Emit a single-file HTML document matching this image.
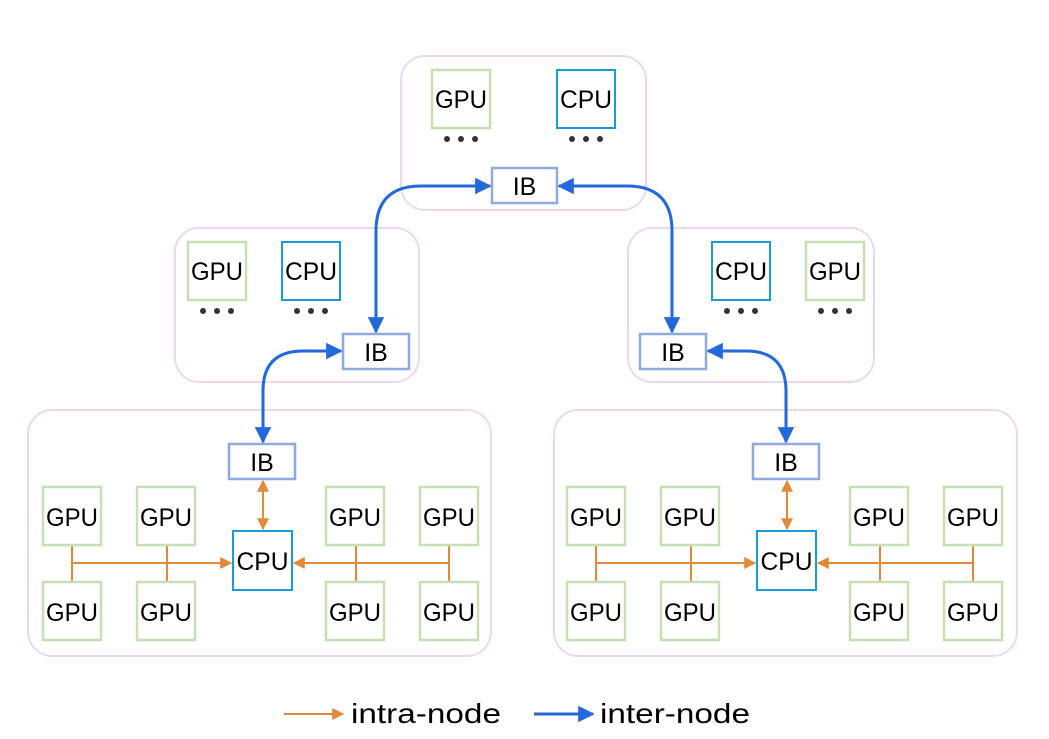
<!DOCTYPE html>
<html><head><meta charset="utf-8"><style>
html,body{margin:0;padding:0;background:#fff;}
svg{display:block;}
text{font-family:"Liberation Sans","DejaVu Sans",sans-serif;fill:#000;}
</style></head><body>
<svg width="1049" height="739" viewBox="0 0 1049 739" xmlns="http://www.w3.org/2000/svg">
<defs>
<marker id="bA" viewBox="0 0 10 10" refX="9" refY="5" markerWidth="5.5" markerHeight="5.5" orient="auto-start-reverse"><path d="M0,0 L10,5 L0,10 z" fill="#2469da"/></marker>
<marker id="oA" viewBox="0 0 10 10" refX="9" refY="5" markerWidth="6" markerHeight="6" orient="auto-start-reverse"><path d="M0,0 L10,5 L0,10 z" fill="#e08a3a"/></marker>
</defs>
<g fill="none" stroke="#ecd8f0" stroke-width="2">
<rect x="401" y="56" width="245" height="154" rx="24"/>
<rect x="175" y="228" width="244" height="154" rx="24"/>
<rect x="628" y="228" width="246" height="154" rx="24"/>
<rect x="28" y="410" width="463" height="246" rx="24"/>
<rect x="554" y="410" width="463" height="246" rx="24"/>
</g>
<g font-size="25" text-anchor="middle">
<rect x="432" y="70" width="58" height="58" fill="none" stroke="#c6e0b4" stroke-width="2.5"/><text x="461" y="108" textLength="52" lengthAdjust="spacingAndGlyphs">GPU</text>
<rect x="557" y="70" width="58" height="58" fill="none" stroke="#1a9ad6" stroke-width="2"/><text x="586" y="108" textLength="52" lengthAdjust="spacingAndGlyphs">CPU</text>
<rect x="492" y="168" width="65" height="35" fill="none" stroke="#90aadc" stroke-width="2.5"/><text x="524.5" y="195">IB</text>
<rect x="188" y="242" width="58" height="58" fill="none" stroke="#c6e0b4" stroke-width="2.5"/><text x="217" y="280" textLength="52" lengthAdjust="spacingAndGlyphs">GPU</text>
<rect x="282" y="242" width="58" height="58" fill="none" stroke="#1a9ad6" stroke-width="2"/><text x="311" y="280" textLength="52" lengthAdjust="spacingAndGlyphs">CPU</text>
<rect x="343" y="334" width="66" height="35" fill="none" stroke="#90aadc" stroke-width="2.5"/><text x="376" y="361">IB</text>
<rect x="712" y="242" width="58" height="58" fill="none" stroke="#1a9ad6" stroke-width="2"/><text x="741" y="280" textLength="52" lengthAdjust="spacingAndGlyphs">CPU</text>
<rect x="806" y="242" width="58" height="58" fill="none" stroke="#c6e0b4" stroke-width="2.5"/><text x="835" y="280" textLength="52" lengthAdjust="spacingAndGlyphs">GPU</text>
<rect x="640" y="334" width="66" height="35" fill="none" stroke="#90aadc" stroke-width="2.5"/><text x="673" y="361">IB</text>
</g>
<g fill="#333">
<circle cx="447" cy="139" r="3"/><circle cx="461" cy="139" r="3"/><circle cx="475" cy="139" r="3"/>
<circle cx="572" cy="139" r="3"/><circle cx="586" cy="139" r="3"/><circle cx="600" cy="139" r="3"/>
<circle cx="203" cy="311" r="3"/><circle cx="217" cy="311" r="3"/><circle cx="231" cy="311" r="3"/>
<circle cx="297" cy="311" r="3"/><circle cx="311" cy="311" r="3"/><circle cx="325" cy="311" r="3"/>
<circle cx="727" cy="311" r="3"/><circle cx="741" cy="311" r="3"/><circle cx="755" cy="311" r="3"/>
<circle cx="821" cy="311" r="3"/><circle cx="835" cy="311" r="3"/><circle cx="849" cy="311" r="3"/>
</g>
<g id="bl">
<g fill="none" stroke="#e08a3a" stroke-width="2">
<line x1="72" y1="545" x2="72" y2="582"/><line x1="167" y1="545" x2="167" y2="582"/>
<line x1="356" y1="545" x2="356" y2="582"/><line x1="449" y1="545" x2="449" y2="582"/>
<line x1="72" y1="563" x2="231" y2="563" marker-end="url(#oA)"/>
<line x1="449" y1="563" x2="294" y2="563" marker-end="url(#oA)"/>
<line x1="263" y1="481" x2="263" y2="529" marker-start="url(#oA)" marker-end="url(#oA)"/>
</g>
<g fill="#fff" stroke="#c6e0b4" stroke-width="2.5">
<rect x="43" y="487" width="58" height="58"/><rect x="137" y="487" width="58" height="58"/>
<rect x="326" y="487" width="58" height="58"/><rect x="420" y="487" width="58" height="58"/>
<rect x="43" y="582" width="58" height="58"/><rect x="137" y="582" width="58" height="58"/>
<rect x="326" y="582" width="58" height="58"/><rect x="420" y="582" width="58" height="58"/>
</g>
<rect x="233" y="531" width="59" height="59" fill="#fff" stroke="#1a9ad6" stroke-width="2"/>
<rect x="229" y="444" width="66" height="35" fill="#fff" stroke="#90aadc" stroke-width="2.5"/>
<g font-size="25" text-anchor="middle">
<text x="72" y="526" textLength="52" lengthAdjust="spacingAndGlyphs">GPU</text><text x="166" y="526" textLength="52" lengthAdjust="spacingAndGlyphs">GPU</text><text x="355" y="526" textLength="52" lengthAdjust="spacingAndGlyphs">GPU</text><text x="449" y="526" textLength="52" lengthAdjust="spacingAndGlyphs">GPU</text>
<text x="72" y="621" textLength="52" lengthAdjust="spacingAndGlyphs">GPU</text><text x="166" y="621" textLength="52" lengthAdjust="spacingAndGlyphs">GPU</text><text x="355" y="621" textLength="52" lengthAdjust="spacingAndGlyphs">GPU</text><text x="449" y="621" textLength="52" lengthAdjust="spacingAndGlyphs">GPU</text>
<text x="262.5" y="570" textLength="52" lengthAdjust="spacingAndGlyphs">CPU</text><text x="262" y="471">IB</text>
</g>
</g>
<use href="#bl" transform="translate(524,0)"/>
<g fill="none" stroke="#2469da" stroke-width="3">
<path d="M490,186 L421,186 Q376,186 376,231 L376,332" marker-start="url(#bA)" marker-end="url(#bA)"/>
<path d="M559,186 L627,186 Q672,186 672,231 L672,332" marker-start="url(#bA)" marker-end="url(#bA)"/>
<path d="M341,351 L303,351 Q263,351 263,391 L263,442" marker-start="url(#bA)" marker-end="url(#bA)"/>
<path d="M708,351 L746,351 Q786,351 786,391 L786,442" marker-start="url(#bA)" marker-end="url(#bA)"/>
</g>
<line x1="284" y1="714" x2="343" y2="714" stroke="#e08a3a" stroke-width="2" marker-end="url(#oA)"/>
<text x="351" y="723" font-size="28" textLength="150" lengthAdjust="spacingAndGlyphs">intra-node</text>
<line x1="534" y1="714" x2="593" y2="714" stroke="#2469da" stroke-width="3" marker-end="url(#bA)"/>
<text x="600" y="723" font-size="28" textLength="150" lengthAdjust="spacingAndGlyphs">inter-node</text>
</svg>
</body></html>
